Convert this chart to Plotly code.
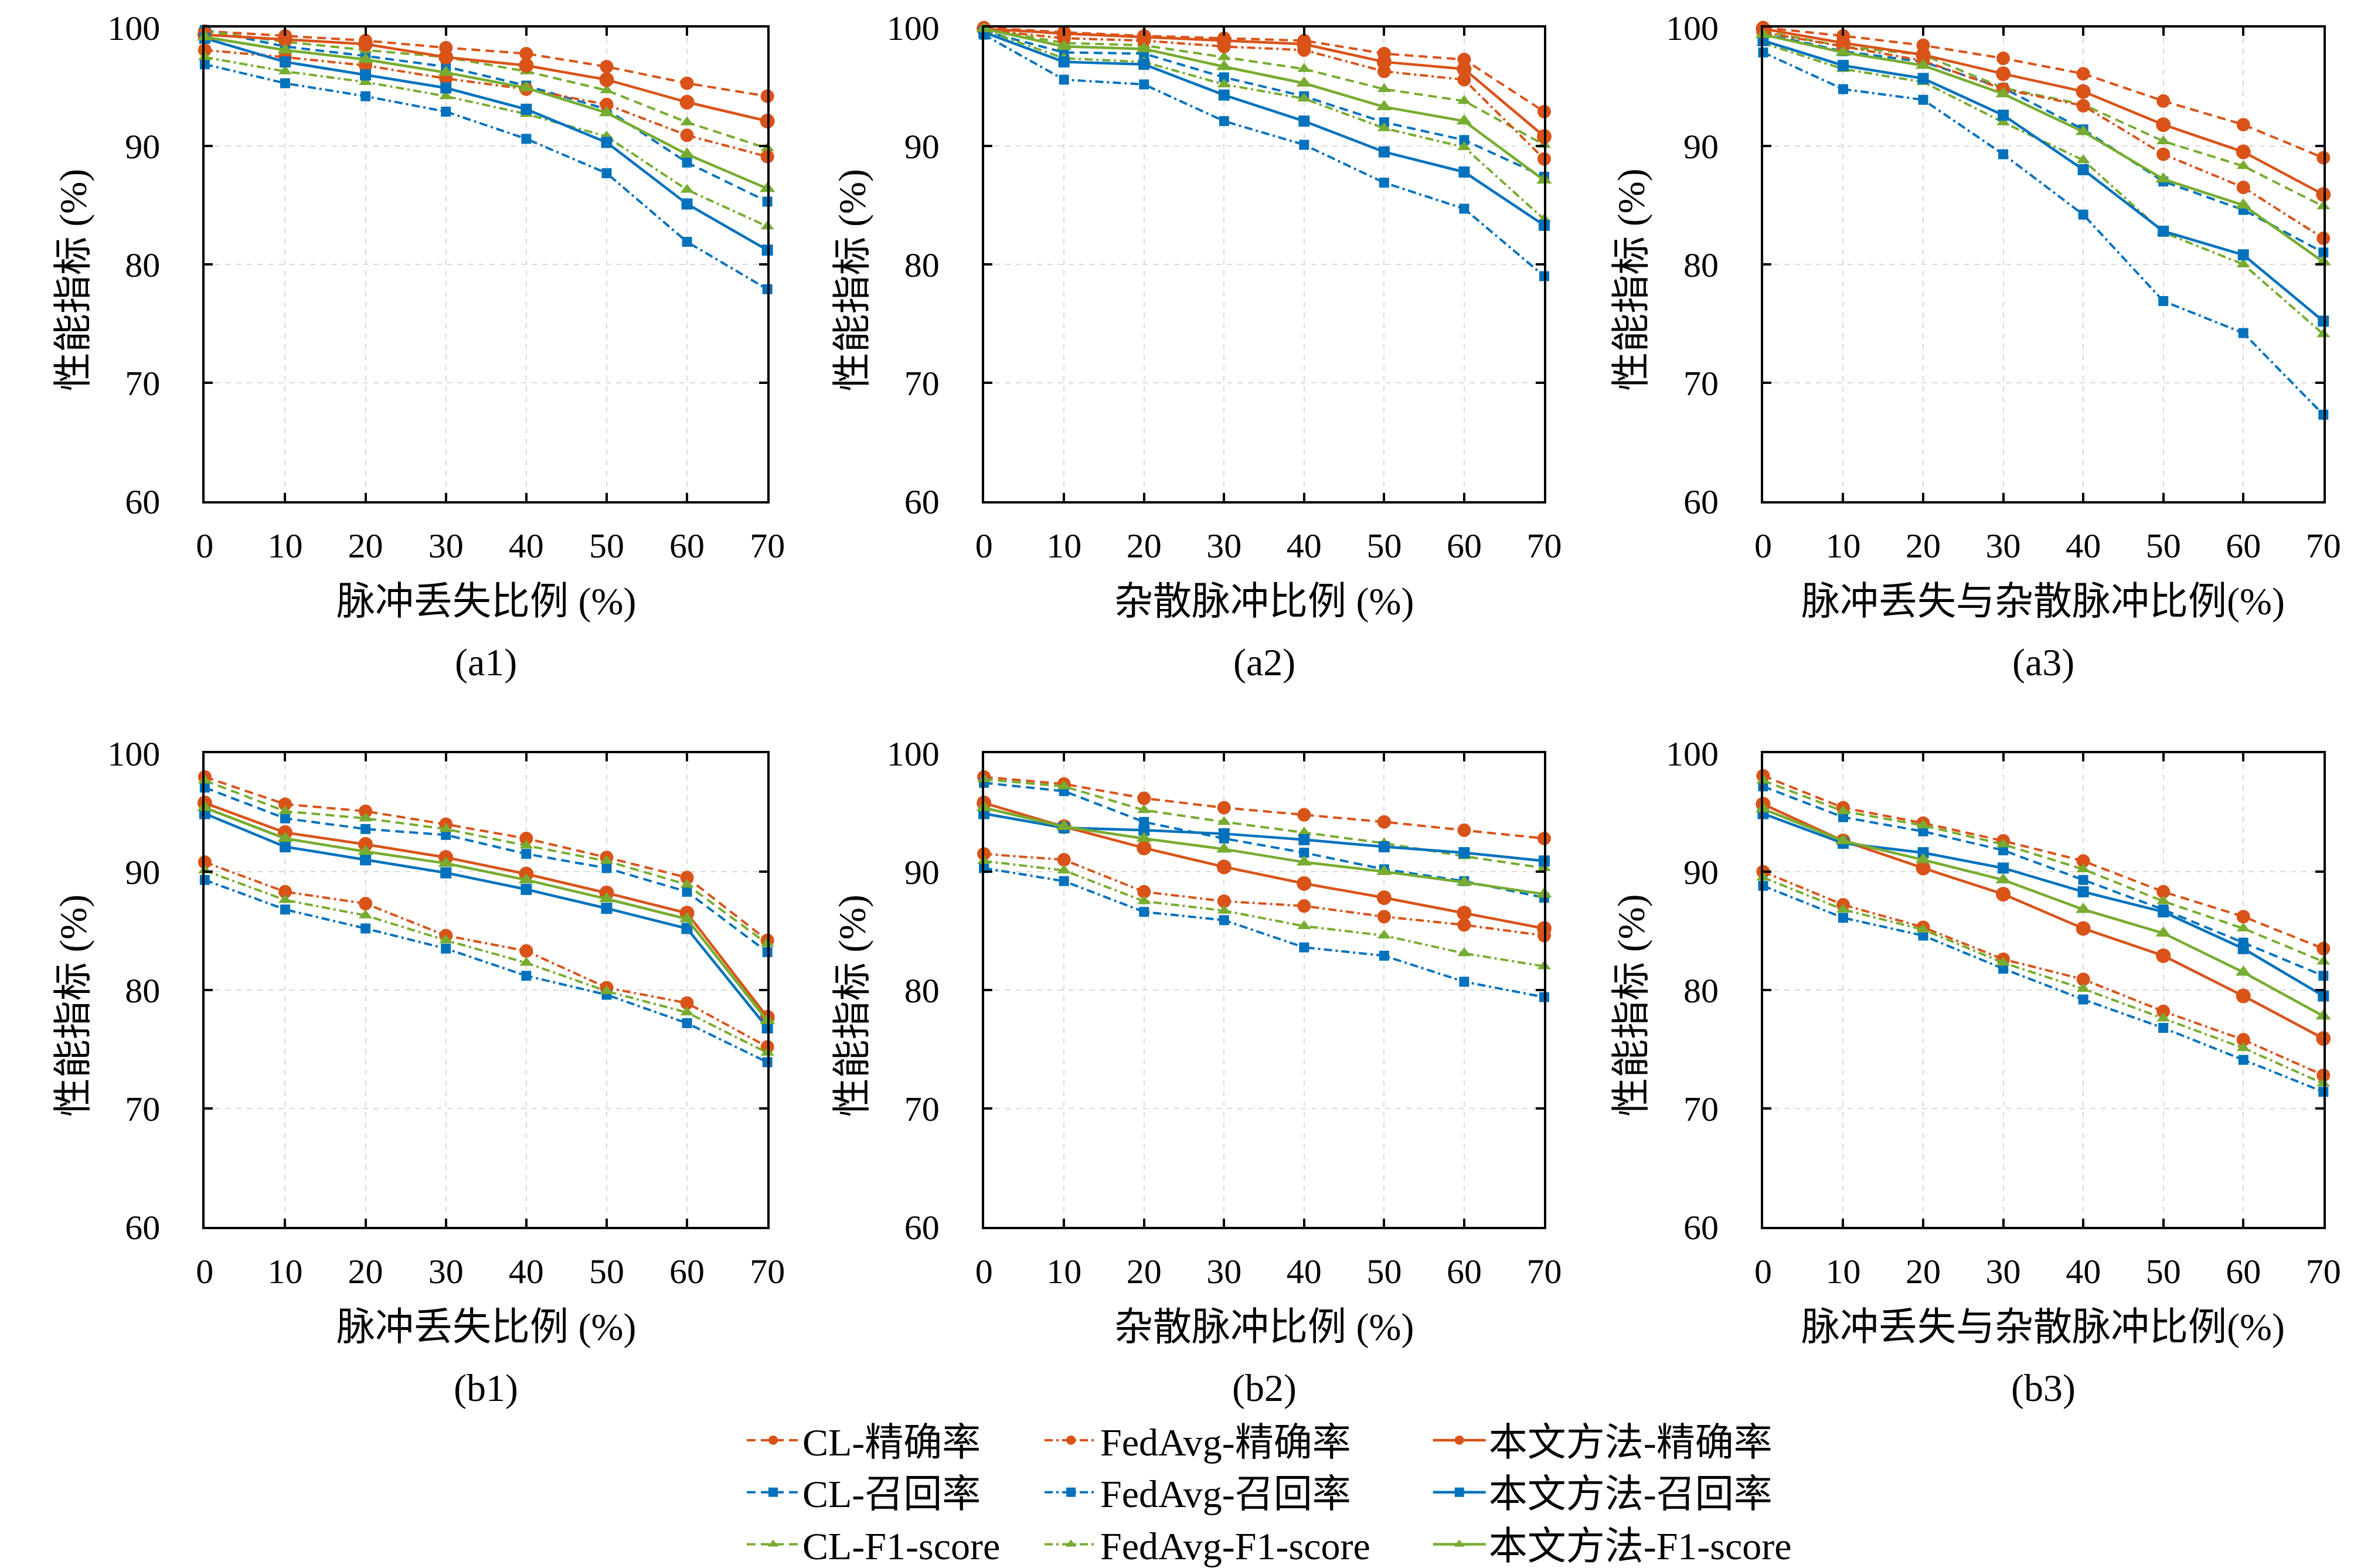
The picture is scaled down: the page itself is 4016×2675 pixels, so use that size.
import plotly.graph_objects as go

# x positions shared by every panel
X = [0, 10, 20, 30, 40, 50, 60, 70]

# ---- (a1) 脉冲丢失 ----
A1_CL_P = [99.7, 99.3, 98.9, 98.3, 97.8, 96.7, 95.3, 94.2]
A1_CL_R = [99.8, 98.4, 97.6, 96.7, 95.1, 93.1, 88.6, 85.3]
A1_CL_F = [99.7, 98.8, 98.1, 97.5, 96.3, 94.7, 92.0, 89.8]
A1_FA_P = [98.1, 97.5, 96.8, 95.7, 94.8, 93.5, 90.9, 89.1]
A1_FA_R = [96.9, 95.3, 94.2, 92.9, 90.6, 87.7, 81.9, 77.9]
A1_FA_F = [97.5, 96.3, 95.4, 94.2, 92.7, 90.8, 86.3, 83.2]
A1_OUR_P = [99.4, 99.0, 98.6, 97.5, 96.8, 95.6, 93.7, 92.1]
A1_OUR_R = [99.1, 97.1, 96.0, 94.9, 93.1, 90.3, 85.1, 81.2]
A1_OUR_F = [99.2, 98.1, 97.3, 96.2, 94.9, 92.8, 89.3, 86.4]

# ---- (a2) 杂散脉冲 ----
A2_CL_P = [100.0, 99.6, 99.3, 99.1, 98.9, 97.8, 97.3, 92.9]
A2_CL_R = [99.7, 97.9, 97.8, 95.8, 94.2, 92.0, 90.5, 87.4]
A2_CL_F = [99.9, 98.7, 98.5, 97.5, 96.5, 94.8, 93.8, 90.1]
A2_FA_P = [99.8, 99.1, 98.9, 98.4, 98.1, 96.3, 95.6, 88.9]
A2_FA_R = [99.4, 95.6, 95.2, 92.1, 90.1, 86.9, 84.7, 79.0]
A2_FA_F = [99.8, 97.4, 97.1, 95.2, 94.0, 91.5, 89.9, 83.8]
A2_OUR_P = [99.9, 99.5, 99.2, 98.9, 98.6, 97.1, 96.5, 90.8]
A2_OUR_R = [99.6, 97.1, 96.9, 94.3, 92.1, 89.5, 87.8, 83.3]
A2_OUR_F = [99.9, 98.4, 98.2, 96.7, 95.3, 93.3, 92.1, 87.1]

# ---- (a3) 脉冲丢失与杂散脉冲 ----
A3_CL_P = [100.0, 99.3, 98.5, 97.4, 96.1, 93.8, 91.8, 89.0]
A3_CL_R = [99.5, 98.0, 97.1, 94.9, 91.4, 87.0, 84.6, 81.0]
A3_CL_F = [99.7, 98.4, 97.7, 94.9, 93.5, 90.4, 88.3, 84.9]
A3_FA_P = [99.6, 98.4, 97.2, 94.8, 93.4, 89.3, 86.5, 82.2]
A3_FA_R = [97.9, 94.8, 93.9, 89.3, 84.2, 76.9, 74.2, 67.3]
A3_FA_F = [98.7, 96.5, 95.4, 92.0, 88.8, 82.7, 80.0, 74.1]
A3_OUR_P = [99.9, 98.7, 97.7, 96.1, 94.6, 91.8, 89.5, 85.9]
A3_OUR_R = [98.9, 96.8, 95.7, 92.6, 88.0, 82.8, 80.8, 75.2]
A3_OUR_F = [99.4, 97.9, 96.8, 94.4, 91.2, 87.2, 85.0, 80.2]

# ---- (b1) ----
B1_CL_P = [98.0, 95.7, 95.1, 94.0, 92.8, 91.2, 89.5, 84.2]
B1_CL_R = [97.1, 94.5, 93.6, 93.1, 91.5, 90.3, 88.3, 83.2]
B1_CL_F = [97.7, 95.1, 94.5, 93.6, 92.2, 90.9, 88.9, 83.9]
B1_FA_P = [90.8, 88.3, 87.3, 84.6, 83.3, 80.2, 78.9, 75.2]
B1_FA_R = [89.3, 86.8, 85.2, 83.5, 81.2, 79.6, 77.2, 73.9]
B1_FA_F = [90.1, 87.6, 86.3, 84.2, 82.3, 79.9, 78.1, 74.7]
B1_OUR_P = [95.8, 93.3, 92.3, 91.2, 89.8, 88.2, 86.5, 77.7]
B1_OUR_R = [94.9, 92.1, 91.0, 89.9, 88.5, 86.9, 85.2, 76.8]
B1_OUR_F = [95.4, 92.8, 91.7, 90.7, 89.3, 87.7, 86.0, 77.4]

# ---- (b2) ----
B2_CL_P = [98.0, 97.4, 96.2, 95.4, 94.8, 94.2, 93.5, 92.8]
B2_CL_R = [97.5, 96.8, 94.2, 92.8, 91.6, 90.2, 89.2, 87.8]
B2_CL_F = [97.8, 97.2, 95.2, 94.2, 93.3, 92.4, 91.3, 90.3]
B2_FA_P = [91.5, 91.0, 88.3, 87.5, 87.1, 86.2, 85.5, 84.6]
B2_FA_R = [90.3, 89.2, 86.6, 85.9, 83.6, 82.9, 80.7, 79.4]
B2_FA_F = [90.9, 90.1, 87.5, 86.7, 85.4, 84.6, 83.1, 82.0]
B2_OUR_P = [95.8, 93.8, 92.0, 90.4, 89.0, 87.8, 86.5, 85.2]
B2_OUR_R = [94.9, 93.7, 93.5, 93.2, 92.7, 92.1, 91.6, 90.9]
B2_OUR_F = [95.4, 93.8, 92.8, 91.9, 90.8, 90.0, 89.1, 88.1]

# ---- (b3) ----
B3_CL_P = [98.1, 95.4, 94.1, 92.6, 90.9, 88.3, 86.2, 83.5]
B3_CL_R = [97.2, 94.6, 93.4, 91.8, 89.3, 86.8, 84.0, 81.2]
B3_CL_F = [97.7, 95.1, 93.9, 92.3, 90.2, 87.5, 85.2, 82.4]
B3_FA_P = [90.0, 87.2, 85.3, 82.6, 80.9, 78.2, 75.8, 72.8]
B3_FA_R = [88.8, 86.1, 84.6, 81.8, 79.2, 76.8, 74.1, 71.4]
B3_FA_F = [89.5, 86.8, 85.1, 82.3, 80.1, 77.6, 75.1, 72.1]
B3_OUR_P = [95.7, 92.6, 90.3, 88.1, 85.2, 82.9, 79.5, 75.9]
B3_OUR_R = [94.9, 92.4, 91.6, 90.3, 88.3, 86.6, 83.5, 79.5]
B3_OUR_F = [95.3, 92.6, 91.0, 89.3, 86.8, 84.8, 81.5, 77.8]

PANEL_LABELS = ["(a1)", "(a2)", "(a3)", "(b1)", "(b2)", "(b3)"]
X_TITLES = ["脉冲丢失比例 (%)", "杂散脉冲比例 (%)", "脉冲丢失与杂散脉冲比例(%)"] * 2
Y_TITLE = "性能指标 (%)"
METHODS = ["CL", "FedAvg", "本文方法"]
METRICS = ["精确率", "召回率", "F1-score"]

PANELS = [
    [[A1_CL_P, A1_CL_R, A1_CL_F], [A1_FA_P, A1_FA_R, A1_FA_F], [A1_OUR_P, A1_OUR_R, A1_OUR_F]],
    [[A2_CL_P, A2_CL_R, A2_CL_F], [A2_FA_P, A2_FA_R, A2_FA_F], [A2_OUR_P, A2_OUR_R, A2_OUR_F]],
    [[A3_CL_P, A3_CL_R, A3_CL_F], [A3_FA_P, A3_FA_R, A3_FA_F], [A3_OUR_P, A3_OUR_R, A3_OUR_F]],
    [[B1_CL_P, B1_CL_R, B1_CL_F], [B1_FA_P, B1_FA_R, B1_FA_F], [B1_OUR_P, B1_OUR_R, B1_OUR_F]],
    [[B2_CL_P, B2_CL_R, B2_CL_F], [B2_FA_P, B2_FA_R, B2_FA_F], [B2_OUR_P, B2_OUR_R, B2_OUR_F]],
    [[B3_CL_P, B3_CL_R, B3_CL_F], [B3_FA_P, B3_FA_R, B3_FA_F], [B3_OUR_P, B3_OUR_R, B3_OUR_F]],
]

COLORS = ["#D95319", "#0072BD", "#77AC30"]          # per metric
SYMBOLS = ["circle", "square", "triangle-up"]
MARK_SZ = [[23, 17, 20], [23, 17, 20], [25, 19, 23]]  # [method][metric]
DASHES = ["15px,9px", "14px,6px,4px,6px", "solid"]  # per method
LINE_W = [4, 4, 4.5]

FONT = "Liberation Serif, Noto Sans CJK SC, serif"
FS = 66
TICK_FS = 60
W, H = 4016, 2675

# panel boxes in paper coords
X_DOMS = [[0.085, 0.324], [0.416, 0.654], [0.747, 0.985]]
Y_DOMS = [[0.6834, 0.9854], [0.2206, 0.5226]]


def axis_style(dom):
    return dict(
        domain=dom, showline=True, linecolor="black", linewidth=4, mirror="ticks",
        ticks="inside", ticklen=14, tickwidth=4, tickcolor="black",
        showgrid=True, gridcolor="#dadada", gridwidth=2, griddash="dash",
        zeroline=False, automargin=False,
        tickfont=dict(family=FONT, size=TICK_FS, color="black"),
    )


def text_note(text, x, y, angle=0):
    return dict(text=text, x=x, y=y, xref="paper", yref="paper", xanchor="center",
                yanchor="middle", textangle=angle, showarrow=False,
                font=dict(family=FONT, size=FS, color="black"))


fig = go.Figure()
layout = {}
annotations = []

for p, panel in enumerate(PANELS):
    r, c = divmod(p, 3)
    n = p + 1
    xa = "x" if n == 1 else f"x{n}"
    ya = "y" if n == 1 else f"y{n}"

    for m, method in enumerate(panel):
        for k, vals in enumerate(method):
            fig.add_trace(go.Scatter(
                x=X, y=vals, xaxis=xa, yaxis=ya,
                mode="lines+markers", cliponaxis=False,
                name=f"{METHODS[m]}-{METRICS[k]}",
                line=dict(color=COLORS[k], width=LINE_W[m], dash=DASHES[m]),
                marker=dict(symbol=SYMBOLS[k], size=MARK_SZ[m][k], color=COLORS[k], line=dict(width=0)),
                showlegend=(p == 0),
                legend="legend" if m == 0 else f"legend{m + 1}",
            ))

    xs = axis_style(X_DOMS[c])
    xs.update(range=[0, 70], tickvals=X, anchor=ya, ticklabelstandoff=20)
    ys = axis_style(Y_DOMS[r])
    ys.update(range=[60, 100], tickvals=[60, 70, 80, 90, 100], anchor=xa, ticklabelstandoff=60)
    layout["xaxis" if n == 1 else f"xaxis{n}"] = xs
    layout["yaxis" if n == 1 else f"yaxis{n}"] = ys

    xc = sum(X_DOMS[c]) / 2
    y_lo = Y_DOMS[r][0]
    annotations.append(text_note(X_TITLES[p], xc, y_lo - 0.064))
    annotations.append(text_note(PANEL_LABELS[p], xc, y_lo - 0.103))
    annotations.append(text_note(Y_TITLE, X_DOMS[c][0] - 0.056, sum(Y_DOMS[r]) / 2 - 0.01, angle=-90))

legend_base = dict(orientation="v", yanchor="top", xanchor="left", y=0.103,
                   font=dict(family=FONT, size=FS, color="black"),
                   bgcolor="rgba(0,0,0,0)", itemwidth=90, tracegroupgap=0)
layout["legend"] = dict(legend_base, x=0.314)
layout["legend2"] = dict(legend_base, x=0.4405)
layout["legend3"] = dict(legend_base, x=0.6055)

fig.update_layout(
    width=W, height=H,
    margin=dict(l=0, r=0, t=0, b=0, autoexpand=False),
    paper_bgcolor="white", plot_bgcolor="white",
    annotations=annotations,
    **layout,
)

fig.write_html("out.html")
